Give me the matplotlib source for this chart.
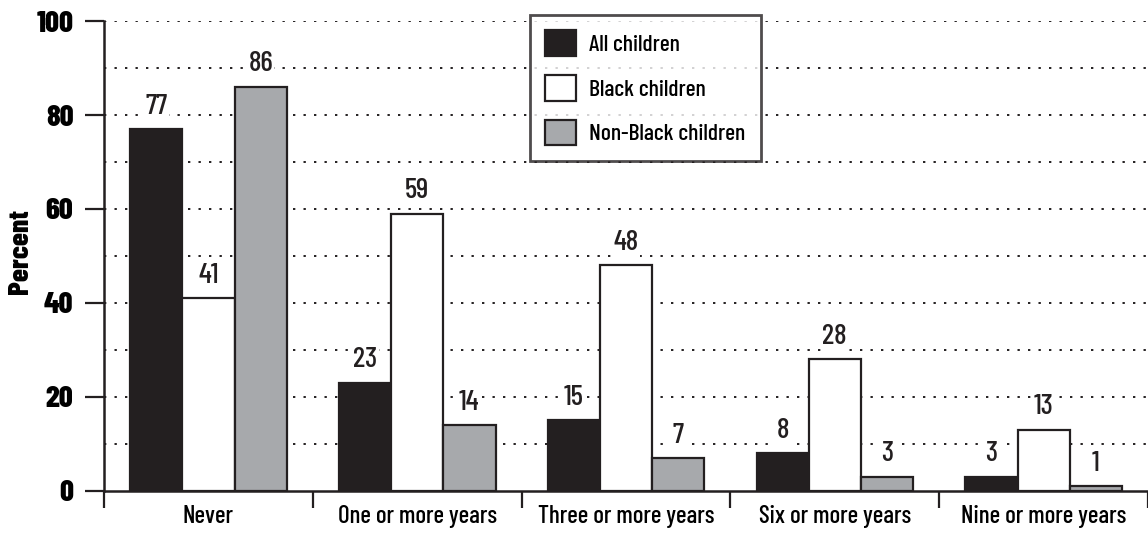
import numpy as np
import matplotlib
matplotlib.use("Agg")
from matplotlib import pyplot as plt
from matplotlib.patches import Patch

# data
categories = ["Never", "One or more years", "Three or more years", "Six or more years", "Nine or more years"]
series_names = ["All children", "Black children", "Non-Black children"]
all_children = [77, 23, 15, 8, 3]
black_children = [41, 59, 48, 28, 13]
nonblack_children = [86, 14, 7, 3, 1]

plt.rcParams['font.family'] = ['Barlow Condensed', 'DejaVu Sans']
plt.rcParams['font.stretch'] = 'condensed'
plt.rcParams['font.weight'] = 500

fills = ["#231f20", "#ffffff", "#a7a9ac"]
edge = "#231f20"

fig = plt.figure(figsize=(11.48, 5.33), dpi=100)
ax = fig.add_axes([0.0906, 0.0788, 0.9094, 0.8818])

x = np.arange(len(categories))
width = 0.25
values = [all_children, black_children, nonblack_children]

for i, vals in enumerate(values):
    pos = x + (i - 1) * width
    ax.bar(pos, vals, width, color=fills[i], edgecolor=edge, linewidth=1.6, zorder=3)
    for p, v in zip(pos, vals):
        ax.text(p, v + 2.0, str(v), ha="center", va="bottom", fontsize=21,
                color="#231f20", zorder=4,
                bbox=dict(facecolor="white", edgecolor="none", pad=1.0))

ax.set_xlim(-0.5, len(categories) - 0.5)
ax.set_ylim(0, 100)

# dotted grid every 10
for g in range(10, 101, 10):
    ax.axhline(g, color="#231f20", linestyle=(0, (1.2, 4.2)), linewidth=1.4, zorder=1)

ax.set_yticks(range(0, 101, 20))
ax.set_yticklabels([str(t) for t in range(0, 101, 20)], fontsize=22, fontweight=800)
ax.tick_params(axis="y", length=14, width=1.6, color="#231f20", pad=8)

ax.set_xticks(x)
ax.set_xticklabels(categories, fontsize=18)
ax.tick_params(axis="x", length=0, pad=10)
ax.set_xticks(np.arange(-0.5, len(categories) - 0.4, 1), minor=True)
ax.tick_params(axis="x", which="minor", length=12, width=1.6, color="#231f20")

for s in ["top", "right"]:
    ax.spines[s].set_visible(False)
for s in ["left", "bottom"]:
    ax.spines[s].set_linewidth(1.8)
    ax.spines[s].set_color("#231f20")

ax.set_ylabel("Percent", fontsize=21, fontweight=800)
ax.yaxis.set_label_coords(-0.068, 0.51)

handles = [Patch(facecolor=fills[i], edgecolor=edge, linewidth=1.6) for i in range(3)]
leg = fig.legend(handles, series_names, loc="upper left", bbox_to_anchor=(0.4617, 0.972),
                 borderaxespad=0, fontsize=17, frameon=True, fancybox=False,
                 handlelength=1.3, handleheight=1.3, borderpad=0.65, labelspacing=0.8,
                 handletextpad=0.55)
leg.get_frame().set_edgecolor("#231f20")
leg.get_frame().set_linewidth(2)
leg.set_zorder(10)

fig.savefig("out.png", dpi=100)
